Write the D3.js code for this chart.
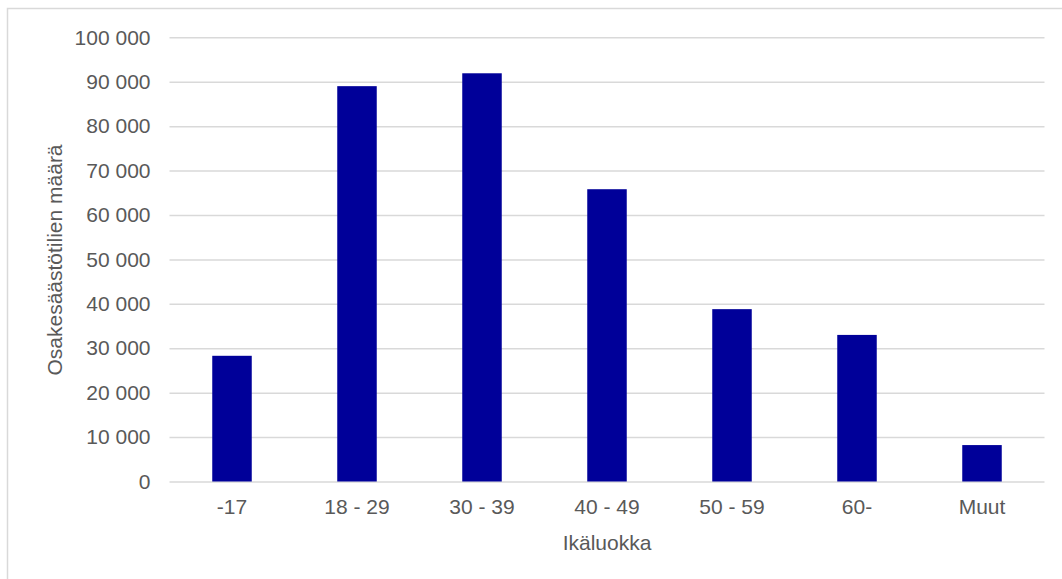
<!DOCTYPE html>
<html>
<head>
<meta charset="utf-8">
<script src="https://cdn.jsdelivr.net/npm/d3@7"></script>
<style>
    body { margin: 0; background: #fff; }
    svg { display: block; font-family: "Liberation Sans", Arial, sans-serif; }
</style>
</head>
<body>
<div class="chart"></div>
<script>
// age groups and number of accounts
var ageGroups = ["-17", "18 - 29", "30 - 39", "40 - 49", "50 - 59", "60-", "Muut"];
var accounts = [28300, 89000, 91900, 65800, 38800, 33000, 8200];
var yTicks = [0, 10000, 20000, 30000, 40000, 50000, 60000, 70000, 80000, 90000, 100000];

var width = 1062;
var height = 579;
var margin = { top: 37.3, right: 17.5, bottom: 97.5, left: 169.5 };
var fontSize = '21px';

// finnish style grouping, space as thousands separator
var fi = d3.formatLocale({ decimal: ",", thousands: " ", grouping: [3], currency: ["", " €"] });
var fmt = fi.format(",");

var svg = d3.select('.chart').append('svg')
    .attr('width', width)
    .attr('height', height);

// light frame round the chart area, it runs off the right and bottom edges
svg.append('rect')
    .attr('x', 7.5)
    .attr('y', 8.5)
    .attr('width', width)
    .attr('height', height)
    .style('fill', 'none')
    .style('stroke', '#d9d9d9')
    .style('stroke-width', 1.5);

var x = d3.scaleBand()
    .domain(ageGroups)
    .range([margin.left, width - margin.right])
    .paddingInner(0.684)
    .paddingOuter(0.342);

var y = d3.scaleLinear()
    .domain([0, 100000])
    .range([height - margin.bottom, margin.top]);

// gridlines + y labels
var yAxis = svg.append('g')
    .attr('transform', 'translate(' + margin.left + ',0)')
    .call(d3.axisLeft(y)
        .tickValues(yTicks)
        .tickFormat(fmt)
        .tickSize(-(width - margin.left - margin.right))
        .tickPadding(19));

yAxis.select('.domain').remove();
yAxis.selectAll('.tick line')
    .style('stroke', '#d9d9d9')
    .style('stroke-width', 1.5);
yAxis.selectAll('.tick text')
    .style('fill', '#595959')
    .style('font-size', fontSize);

// bars
svg.selectAll('.bar')
    .data(accounts)
    .enter().append('rect')
    .attr('class', 'bar')
    .attr('x', function (d, i) { return x(ageGroups[i]); })
    .attr('y', function (d) { return y(d); })
    .attr('width', x.bandwidth())
    .attr('height', function (d) { return y(0) - y(d); })
    .style('fill', '#000099');

// x labels
var xAxis = svg.append('g')
    .attr('transform', 'translate(0,' + (height - margin.bottom) + ')')
    .call(d3.axisBottom(x).tickSize(0).tickPadding(18));

xAxis.select('.domain').remove();
xAxis.selectAll('.tick text')
    .style('fill', '#595959')
    .style('font-size', fontSize);

// axis titles
svg.append('text')
    .attr('x', (margin.left + width - margin.right) / 2)
    .attr('y', 550)
    .attr('text-anchor', 'middle')
    .style('fill', '#595959')
    .style('font-size', fontSize)
    .text('Ikäluokka');

svg.append('text')
    .attr('transform', 'translate(62,260) rotate(-90)')
    .attr('text-anchor', 'middle')
    .style('fill', '#595959')
    .style('font-size', fontSize)
    .text('Osakesäästötilien määrä');
</script>
</body>
</html>
